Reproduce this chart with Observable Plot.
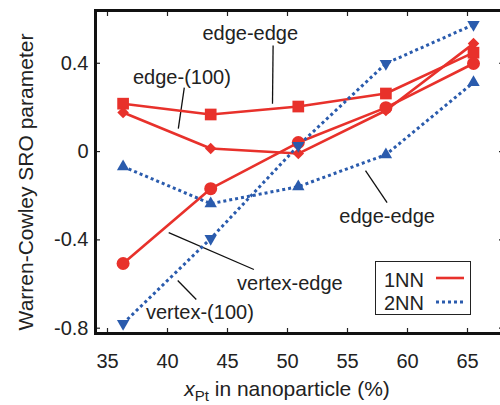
<!DOCTYPE html>
<html><head><meta charset="utf-8">
<script src="https://cdn.jsdelivr.net/npm/d3@7"></script>
<script src="https://cdn.jsdelivr.net/npm/@observablehq/plot@0.6"></script>
<style>
body{margin:0;background:#fff;}
#wrap{position:relative;width:500px;height:405px;overflow:hidden;font-family:"Liberation Sans",Arial,sans-serif;}
#legend{position:absolute;left:375px;top:261px;width:96px;height:54px;border:1.5px solid #222;background:#fff;box-sizing:border-box;font-size:20px;color:#222;}
#legend div{position:absolute;left:8px;line-height:20px;}
#legend svg{position:absolute;left:0;top:0;}
</style></head><body><div id="wrap"></div>
<script>
// ---- data ----
const xPt = [36.3, 43.6, 50.9, 58.2, 65.5];
const edgeEdge1NN   = [0.217, 0.168, 0.204, 0.263, 0.448];
const edge100_1NN   = [0.177, 0.014, -0.009, 0.186, 0.489];
const vertexEdge1NN = [-0.507, -0.168, 0.041, 0.199, 0.399];
const edgeEdge2NN   = [-0.068, -0.236, -0.159, -0.014, 0.313];
const vertex100_2NN = [-0.779, -0.394, 0.027, 0.399, 0.575];
const xTicks = [35, 40, 45, 50, 55, 60, 65];
const yTicks = [-0.8, -0.4, 0, 0.4];
const legendLabels = ["1NN", "2NN"];
const xTitle = ["x", "Pt", " in nanoparticle (%)"];
const yTitle = "Warren-Cowley SRO parameter";
// annotations (label, anchor in data coords, leader line in data coords)
const annLabels = ["edge-edge", "edge-(100)", "edge-edge", "vertex-edge", "vertex-(100)"];
const annX  = [46.9, 41.2, 58.3, 50.2, 42.7];
const annY  = [0.534, 0.335, -0.294, -0.598, -0.729];
const annX1 = [48.8, 41.4, 56.5, 40.1, 40.85];
const annY1 = [0.48, 0.29, -0.086, -0.367, -0.584];
const annX2 = [48.75, 40.9, 58.3, 47.2, 42.4];
const annY2 = [0.217, 0.104, -0.231, -0.534, -0.67];

const RED = "#e8312b", BLUE = "#2a5bad";
const seriesDefs = [
  {name: "edge-edge 1NN", nn: "1NN", values: edgeEdge1NN, symbol: "square", r: 6.6, rotate: 0},
  {name: "edge-(100) 1NN", nn: "1NN", values: edge100_1NN, symbol: "diamond2", r: 5.2, rotate: 0},
  {name: "vertex-edge 1NN", nn: "1NN", values: vertexEdge1NN, symbol: "circle", r: 6.5, rotate: 0},
  {name: "edge-edge 2NN", nn: "2NN", values: edgeEdge2NN, symbol: "triangle", r: 4.6, rotate: 0},
  {name: "vertex-(100) 2NN", nn: "2NN", values: vertex100_2NN, symbol: "triangle", r: 4.6, rotate: 180}
];
const rows = seriesDefs.flatMap(s => s.values.map((v, i) => ({x: xPt[i], y: v, series: s.name, nn: s.nn})));
const ann = annLabels.map((t, i) => ({t, x: annX[i], y: annY[i], x1: annX1[i], y1: annY1[i], x2: annX2[i], y2: annY2[i]}));

const lineMarks = seriesDefs.map(s => Plot.line(rows.filter(d => d.series === s.name), {
  x: "x", y: "y",
  stroke: s.nn === "1NN" ? RED : BLUE,
  strokeWidth: s.nn === "1NN" ? 2.6 : 3,
  strokeDasharray: s.nn === "1NN" ? null : "3,3",
  strokeLinecap: "butt"
}));
const dotMarks = seriesDefs.map(s => Plot.dot(rows.filter(d => d.series === s.name), {
  x: "x", y: "y", symbol: () => s.symbol, r: s.r, rotate: s.rotate,
  fill: s.nn === "1NN" ? RED : BLUE, stroke: "none"
}));

const FONT = "'Liberation Sans', Arial, sans-serif";
const plot = Plot.plot({
  width: 500, height: 405,
  marginLeft: 95, marginRight: -3, marginTop: 10, marginBottom: 72,
  style: {fontFamily: FONT, fontSize: "20px", color: "#222", background: "transparent"},
  x: {domain: [34, 68]},
  y: {domain: [-0.824, 0.639]},
  symbol: {type: "identity"},
  marks: [
    Plot.axisX(xTicks, {anchor: "bottom", tickSize: -5, text: null, label: null, strokeWidth: 1.2}),
    Plot.axisX(xTicks, {anchor: "top", tickSize: -5, text: null, label: null, strokeWidth: 1.2}),
    Plot.axisY(yTicks, {anchor: "left", tickSize: -5, text: null, label: null, strokeWidth: 1.2}),
    Plot.axisY(yTicks, {anchor: "right", tickSize: -5, text: null, label: null, strokeWidth: 1.2}),
    Plot.axisX(xTicks, {anchor: "bottom", tickSize: 0, tickPadding: 20, label: null, fontSize: 20}),
    Plot.axisY(yTicks, {anchor: "left", tickSize: 0, tickPadding: 7, label: null, fontSize: 20, tickFormat: d => String(d)}),
    Plot.link(ann, {x1: "x1", y1: "y1", x2: "x2", y2: "y2", stroke: "#111", strokeWidth: 1.3}),
    ...lineMarks,
    ...dotMarks,
    Plot.text(ann, {x: "x", y: "y", text: "t", fontSize: 20, fill: "#222"}),
    Plot.frame({stroke: "#111", strokeWidth: 3})
  ]
});
document.getElementById("wrap").appendChild(plot);

// axis titles
const svg = d3.select(plot);
const xt = svg.append("text").attr("x", 287).attr("y", 396).attr("text-anchor", "middle")
  .attr("font-size", 21).attr("fill", "#222").attr("font-family", FONT);
xt.append("tspan").attr("font-style", "italic").text(xTitle[0]);
xt.append("tspan").attr("font-size", 15).attr("dy", 5).text(xTitle[1]);
xt.append("tspan").attr("dy", -5).text(xTitle[2]);
svg.append("text").attr("transform", "translate(33,182) rotate(-90)").attr("text-anchor", "middle")
  .attr("font-size", 21).attr("fill", "#222").attr("font-family", FONT).text(yTitle);

// legend box
const lg = document.createElement("div");
lg.id = "legend";
lg.innerHTML = `<div style="top:8px">${legendLabels[0]}</div><div style="top:31px">${legendLabels[1]}</div>
<svg width="96" height="54"><line x1="60" x2="88" y1="16" y2="16" stroke="${RED}" stroke-width="2.6"/>
<line x1="60" x2="88" y1="40" y2="40" stroke="${BLUE}" stroke-width="3" stroke-dasharray="3,3"/></svg>`;
document.getElementById("wrap").appendChild(lg);
</script></body></html>
